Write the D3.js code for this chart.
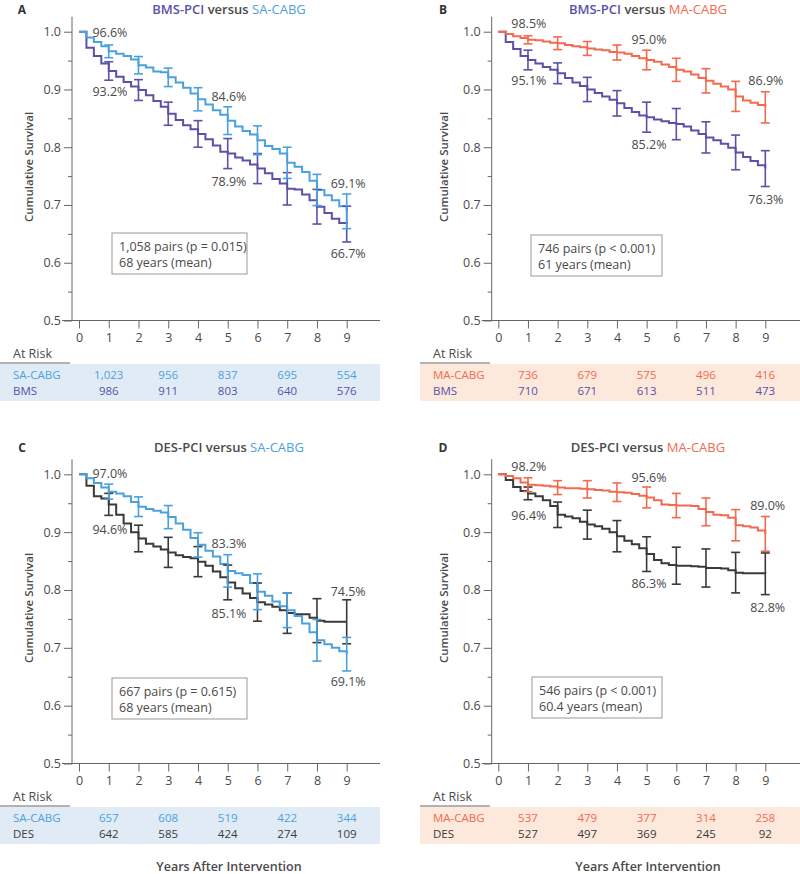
<!DOCTYPE html>
<html><head><meta charset="utf-8">
<script src="https://cdn.jsdelivr.net/npm/d3@7"></script>
<style>
body{margin:0;background:#fff;}
svg{display:block;font-family:"Open Sans",sans-serif;}
</style></head>
<body><svg id="chart" width="800" height="874"></svg>
<script>
// ---------------- DATA ----------------
// survival estimates read at quarter-year steps, years 0..9
const yearsGrid = d3.range(0, 9.001, 0.25);
const yearTicks = [0,1,2,3,4,5,6,7,8,9];
const yTicks = [0.5,0.6,0.7,0.8,0.9,1.0];
const riskYears = [1,3,5,7,9];

const survA_SA = [1.0,.99,.982,.975,.966,.962,.958,.952,.942,.938,.931,.93,.921,.912,.903,.893,.883,.874,.864,.856,.846,.836,.828,.822,.812,.802,.797,.789,.773,.766,.757,.742,.726,.717,.708,.698,.689];
const survA_BMS = [1.0,.972,.958,.945,.932,.922,.913,.905,.899,.89,.88,.87,.858,.847,.838,.831,.823,.814,.803,.792,.789,.782,.777,.77,.763,.755,.745,.737,.728,.727,.718,.708,.697,.686,.676,.669,.667];
const survB_MA = [1.0,.996,.992,.989,.986,.985,.983,.981,.98,.977,.975,.973,.971,.969,.968,.965,.964,.962,.958,.954,.951,.948,.943,.939,.934,.931,.926,.92,.915,.91,.905,.9,.888,.881,.877,.873,.869];
const survB_BMS = [1.0,.982,.97,.958,.951,.945,.939,.934,.928,.92,.912,.906,.9,.894,.888,.882,.876,.868,.861,.855,.852,.848,.845,.842,.84,.836,.829,.823,.817,.812,.806,.799,.791,.783,.776,.769,.763];
const survC_SA = [1.0,.993,.985,.977,.97,.967,.962,.952,.944,.94,.937,.934,.926,.915,.904,.89,.878,.868,.858,.845,.833,.829,.826,.812,.797,.79,.78,.772,.765,.755,.742,.727,.713,.706,.7,.694,.689];
const survC_DES = [1.0,.98,.962,.958,.948,.93,.915,.9,.889,.88,.875,.87,.865,.86,.857,.855,.849,.842,.832,.822,.813,.803,.794,.786,.779,.775,.771,.765,.76,.758,.758,.752,.747,.745,.745,.745,.745];
const survD_MA = [1.0,.997,.993,.986,.982,.981,.98,.979,.977,.976,.976,.975,.974,.973,.972,.97,.969,.968,.966,.963,.96,.955,.948,.947,.946,.946,.945,.94,.935,.93,.929,.925,.912,.91,.908,.903,.897];
const survD_DES = [1.0,.99,.978,.971,.967,.962,.955,.945,.93,.927,.924,.918,.913,.91,.906,.9,.893,.885,.879,.872,.862,.852,.846,.843,.842,.842,.841,.84,.838,.838,.837,.834,.83,.829,.829,.829,.828];

// half-width of 95% CI at years 1..9
const ciA_SA = [.011,.015,.016,.020,.024,.025,.027,.027,.030];
const ciA_BMS = [.016,.018,.020,.023,.026,.026,.028,.030,.031];
const ciB_MA = [.007,.011,.012,.013,.017,.020,.021,.026,.027];
const ciB_BMS = [.017,.018,.021,.022,.026,.027,.027,.030,.031];
const ciC_SA = [.013,.017,.020,.021,.028,.031,.030,.036,.029];
const ciC_DES = [.019,.023,.026,.026,.030,.033,.035,.038,.038];
const ciD_MA = [.012,.012,.015,.016,.018,.021,.024,.027,.030];
const ciD_DES = [.011,.022,.025,.027,.030,.032,.033,.035,.036];

// numbers at risk at years 1,3,5,7,9
const riskA_SA = ["1,023","956","837","695","554"];
const riskA_BMS = ["986","911","803","640","576"];
const riskB_MA = ["736","679","575","496","416"];
const riskB_BMS = ["710","671","613","511","473"];
const riskC_SA = ["657","608","519","422","344"];
const riskC_DES = ["642","585","424","274","109"];
const riskD_MA = ["537","479","377","314","258"];
const riskD_DES = ["527","497","369","245","92"];

// annotation labels [text, year, survival] (label centre in data units)
const labelsA = [["96.6%",1.04,0.998],["93.2%",1.04,0.897],["84.6%",5.04,0.887],["78.9%",5.04,0.741],["69.1%",9.05,0.738],["66.7%",9.05,0.616]];
const labelsB = [["98.5%",1.03,1.015],["95.1%",1.03,0.915],["95.0%",5.08,0.987],["85.2%",5.08,0.804],["86.9%",9.02,0.916],["76.3%",9.02,0.71]];
const labelsC = [["97.0%",1.04,1.002],["94.6%",1.04,0.905],["83.3%",5.04,0.881],["85.1%",5.04,0.76],["74.5%",9.05,0.798],["69.1%",9.05,0.642]];
const labelsD = [["98.2%",1.03,1.013],["96.4%",1.03,0.928],["95.6%",5.08,0.995],["86.3%",5.08,0.812],["89.0%",9.08,0.946],["82.8%",9.08,0.77]];

const boxA = ["1,058 pairs (p = 0.015)","68 years (mean)"];
const boxB = ["746 pairs (p < 0.001)","61 years (mean)"];
const boxC = ["667 pairs (p = 0.615)","68 years (mean)"];
const boxD = ["546 pairs (p < 0.001)","60.4 years (mean)"];

// ---------------- STYLE ----------------
const C = {SA:"#4ba1de", BMS:"#5a51a8", MA:"#f26a4f", DES:"#3a3a3a", text:"#4a4a4a"};
const tblBg = {SA:"#e1ebf6", MA:"#fde8dc"};

const panels = [
 {id:"A", pci:"BMS-PCI", cabg:"SA-CABG", cabgKey:"SA", pciKey:"BMS", pciName:"BMS",
  sC:survA_SA, sP:survA_BMS, ciC:ciA_SA, ciP:ciA_BMS, rC:riskA_SA, rP:riskA_BMS, labels:labelsA, box:boxA,
  L:{axisX:72, xr:[79,346.7], yr:[320.5,31.7], xEnd:380, tblL:0, tblR:380, boxX:112, boxY:233, boxW:135, lblX:22, yLblX:28, yLblY:167, titleX:229, titleY:13.5}},
 {id:"B", pci:"BMS-PCI", cabg:"MA-CABG", cabgKey:"MA", pciKey:"BMS", pciName:"BMS",
  sC:survB_MA, sP:survB_BMS, ciC:ciB_MA, ciP:ciB_BMS, rC:riskB_MA, rP:riskB_BMS, labels:labelsB, box:boxB,
  L:{axisX:491.7, xr:[498.3,765.3], yr:[320.5,31.7], xEnd:800, tblL:420, tblR:800, boxX:531, boxY:235, boxW:131, lblX:443, yLblX:443, yLblY:167, titleX:648, titleY:13.5}},
 {id:"C", pci:"DES-PCI", cabg:"SA-CABG", cabgKey:"SA", pciKey:"DES", pciName:"DES",
  sC:survC_SA, sP:survC_DES, ciC:ciC_SA, ciP:ciC_DES, rC:riskC_SA, rP:riskC_DES, labels:labelsC, box:boxC,
  L:{axisX:72, xr:[79,346.7], yr:[763.5,474.3], xEnd:380, tblL:0, tblR:380, boxX:112, boxY:678, boxW:135, lblX:22, yLblX:28, yLblY:608, titleX:229, titleY:452, xTitle:229}},
 {id:"D", pci:"DES-PCI", cabg:"MA-CABG", cabgKey:"MA", pciKey:"DES", pciName:"DES",
  sC:survD_MA, sP:survD_DES, ciC:ciD_MA, ciP:ciD_DES, rC:riskD_MA, rP:riskD_DES, labels:labelsD, box:boxD,
  L:{axisX:491.7, xr:[498.3,765.3], yr:[763.5,474.3], xEnd:800, tblL:420, tblR:800, boxX:532, boxY:677, boxW:130, lblX:443, yLblX:443, yLblY:608, titleX:648, titleY:452, xTitle:648}}
];

const svg = d3.select("#chart");

panels.forEach(p => {
  const L = p.L;
  const g = svg.append("g");
  const x = d3.scaleLinear().domain([0,9]).range(L.xr);
  const y = d3.scaleLinear().domain([0.5,1.0]).range(L.yr);
  const yBot = L.yr[0];

  // panel letter
  g.append("text").attr("x",L.lblX).attr("y",L.titleY).attr("text-anchor","middle")
    .attr("font-size",12).attr("font-weight",700).attr("fill","#333").text(p.id);
  // title
  const t = g.append("text").attr("x",L.titleX).attr("y",L.titleY).attr("text-anchor","middle")
    .attr("font-size",13).attr("font-weight",600);
  if (p.pci.startsWith("BMS")) t.append("tspan").attr("fill",C.BMS).text(p.pci);
  else t.append("tspan").attr("fill",C.text).text(p.pci);
  t.append("tspan").attr("fill",C.text).text(" versus ");
  t.append("tspan").attr("fill",C[p.cabgKey]).attr("font-weight",500).text(p.cabg);

  // y axis
  const yAxis = d3.axisLeft(y).tickValues(yTicks).tickFormat(d3.format(".1f")).tickSize(8).tickPadding(3);
  const ya = g.append("g").attr("transform",`translate(${L.axisX},0)`).call(yAxis);
  ya.select(".domain").remove();
  ya.selectAll("line").attr("stroke","#666");
  ya.selectAll("text").attr("font-size",12.5).attr("fill",C.text).attr("font-family","Open Sans");
  const yMinor = d3.axisLeft(y).tickValues([0.55,0.65,0.75,0.85,0.95]).tickSize(4).tickFormat("");
  const ym = g.append("g").attr("transform",`translate(${L.axisX},0)`).call(yMinor);
  ym.select(".domain").remove();
  ym.selectAll("line").attr("stroke","#666");
  g.append("line").attr("x1",L.axisX).attr("x2",L.axisX).attr("y1",yBot).attr("y2",L.yr[1]-15).attr("stroke","#666");

  // x axis
  g.append("line").attr("x1",L.axisX-10).attr("x2",L.xEnd).attr("y1",yBot).attr("y2",yBot).attr("stroke","#666");
  const xAxis = d3.axisBottom(x).tickValues(yearTicks).tickSize(8).tickPadding(5).tickFormat(d3.format("d"));
  const xa = g.append("g").attr("transform",`translate(0,${yBot})`).call(xAxis);
  xa.select(".domain").remove();
  xa.selectAll("line").attr("stroke","#666");
  xa.selectAll("text").attr("font-size",12.5).attr("fill",C.text).attr("font-family","Open Sans");

  // y label
  g.append("text").attr("transform",`translate(${L.yLblX},${L.yLblY}) rotate(-90)`)
    .attr("text-anchor","middle").attr("dominant-baseline","central")
    .attr("font-size",11.5).attr("font-weight",600).attr("fill",C.text).text("Cumulative Survival");

  // curves
  const line = d3.line().x((d,i)=>x(yearsGrid[i])).y(d=>y(d)).curve(d3.curveStepAfter);
  const series = [{s:p.sP, ci:p.ciP, col:C[p.pciKey]},{s:p.sC, ci:p.ciC, col:C[p.cabgKey]}];
  series.forEach(se => {
    g.append("path").datum(se.s).attr("d",line).attr("fill","none").attr("stroke",se.col).attr("stroke-width",2);
  });
  series.forEach(se => {
    se.ci.forEach((h,i) => {
      const yr = i+1;
      const v = se.s[yearsGrid.indexOf(yr)];
      const xx = x(yr), y1 = y(v+h), y2 = y(v-h);
      g.append("line").attr("x1",xx).attr("x2",xx).attr("y1",y1).attr("y2",y2).attr("stroke",se.col).attr("stroke-width",1.6);
      [y1,y2].forEach(yy => g.append("line").attr("x1",xx-4.5).attr("x2",xx+4.5).attr("y1",yy).attr("y2",yy).attr("stroke",se.col).attr("stroke-width",1.6));
    });
  });

  // labels
  p.labels.forEach(l => {
    g.append("text").attr("x",x(l[1])).attr("y",y(l[2])).attr("text-anchor","middle").attr("dominant-baseline","central")
      .attr("font-size",12.5).attr("fill",C.text).text(l[0]);
  });

  // info box
  g.append("rect").attr("x",L.boxX).attr("y",L.boxY).attr("width",L.boxW).attr("height",41)
    .attr("fill","#fff").attr("stroke","#999").attr("stroke-width",1);
  p.box.forEach((s,i)=>{
    g.append("text").attr("x",L.boxX+7).attr("y",L.boxY+13.5+i*15.5).attr("dominant-baseline","central")
      .attr("font-size",12.5).attr("fill",C.text).text(s);
  });

  // at risk table
  g.append("text").attr("x",L.tblL+13).attr("y",yBot+33).attr("dominant-baseline","central")
    .attr("font-size",12.5).attr("fill",C.text).text("At Risk");
  g.append("line").attr("x1",L.tblL).attr("x2",L.tblL+70).attr("y1",yBot+42.5).attr("y2",yBot+42.5).attr("stroke","#666").attr("stroke-width",1.2);
  g.append("rect").attr("x",L.tblL).attr("y",yBot+43.5).attr("width",L.tblR-L.tblL).attr("height",37).attr("fill",tblBg[p.cabgKey]);
  const rows = [{name:p.cabg, vals:p.rC, col:C[p.cabgKey], dy:54},{name:p.pciName, vals:p.rP, col:C[p.pciKey], dy:70}];
  rows.forEach(r=>{
    g.append("text").attr("x",L.tblL+13).attr("y",yBot+r.dy).attr("dominant-baseline","central")
      .attr("font-size",11.5).attr("fill",r.col).text(r.name);
    r.vals.forEach((v,i)=>{
      g.append("text").attr("x",x(riskYears[i])).attr("y",yBot+r.dy).attr("dominant-baseline","central").attr("text-anchor","middle")
        .attr("font-size",11.5).attr("fill",r.col).text(v);
    });
  });

  if (L.xTitle) {
    g.append("text").attr("x",L.xTitle).attr("y",866).attr("text-anchor","middle").attr("dominant-baseline","central")
      .attr("font-size",12.5).attr("font-weight",600).attr("fill",C.text).text("Years After Intervention");
  }
});
</script></body></html>
